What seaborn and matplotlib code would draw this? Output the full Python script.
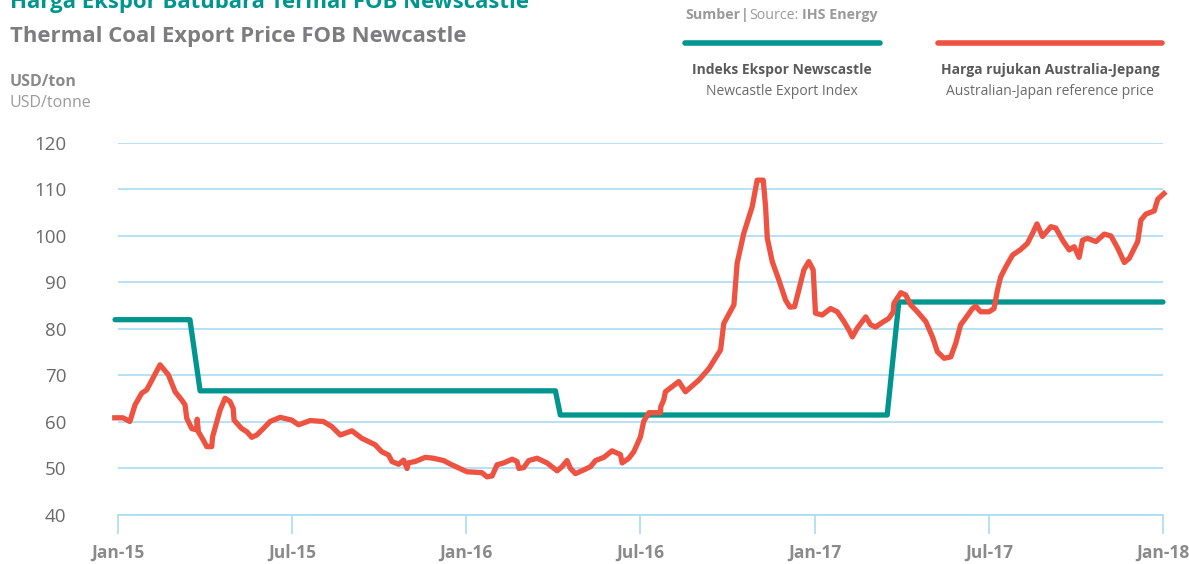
import pandas as pd
import matplotlib.pyplot as plt
import seaborn as sns

# months counted from Jan-15
tick_months = [0, 6, 12, 18, 24, 30, 36]
tick_labels = ["Jan-15", "Jul-15", "Jan-16", "Jul-16", "Jan-17", "Jul-17", "Jan-18"]

# Newcastle Export Index (step series)
index_month = [-0.1, 2.48, 2.83, 15.07, 15.24, 26.5, 26.9, 36.0]
index_price = [82.0, 82.0, 66.7, 66.7, 61.5, 61.5, 85.8, 85.8]

# Australian-Japan reference price
ref_month = [-0.2, 0.17, 0.41, 0.59, 0.82, 0.99, 1.45, 1.74, 1.97, 2.2, 2.31, 2.37, 2.54, 2.71, 2.73,
             2.77, 2.94, 3.06, 3.23, 3.26, 3.34, 3.52, 3.69, 3.86, 3.97, 4.0, 4.26, 4.44, 4.61, 4.78,
             5.01, 5.24, 5.59, 5.99, 6.22, 6.62, 7.08, 7.37, 7.66, 8.06, 8.4, 8.86, 9.09, 9.32, 9.44,
             9.67, 9.84, 9.96, 10.0, 10.24, 10.59, 10.87, 11.22, 11.5, 12.02, 12.54, 12.71, 12.89, 13.06,
             13.29, 13.58, 13.75, 13.81, 13.98, 14.15, 14.44, 14.78, 15.13, 15.3, 15.47, 15.59, 15.76,
             16.05, 16.28, 16.45, 16.74, 17.02, 17.31, 17.37, 17.6, 17.77, 18.0, 18.11, 18.29, 18.69,
             18.7, 18.8, 18.86, 19.32, 19.55, 20.01, 20.36, 20.76, 20.87, 21.22, 21.33, 21.56, 21.85,
             22.02, 22.23, 22.31, 22.37, 22.54, 22.77, 23.0, 23.15, 23.31, 23.63, 23.8, 23.95, 24.03,
             24.26, 24.55, 24.78, 25.01, 25.18, 25.3, 25.47, 25.76, 25.93, 26.1, 26.28, 26.56, 26.71,
             26.73, 26.97, 27.14, 27.31, 27.54, 27.83, 28.06, 28.23, 28.46, 28.69, 28.86, 29.03, 29.15,
             29.44, 29.55, 29.72, 30.01, 30.18, 30.3, 30.41, 30.59, 30.82, 31.1, 31.33, 31.51, 31.66,
             31.85, 32.14, 32.31, 32.54, 32.77, 32.94, 33.11, 33.23, 33.4, 33.69, 33.98, 34.21, 34.44,
             34.67, 34.84, 35.13, 35.24, 35.41, 35.7, 35.82, 36.1]
ref_price = [60.9, 60.9, 60.1, 63.7, 66.2, 66.9, 72.3, 70.1, 66.5, 64.7, 63.7, 60.8, 58.6, 58.3, 60.6,
             57.9, 56.1, 54.7, 54.7, 56.8, 58.6, 62.6, 65.1, 64.4, 62.9, 60.4, 58.6, 57.9, 56.7, 57.2,
             58.6, 60.1, 61.0, 60.4, 59.4, 60.3, 60.1, 59.0, 57.2, 58.1, 56.5, 55.1, 53.6, 52.9, 51.5,
             50.9, 51.8, 50.0, 51.2, 51.5, 52.4, 52.2, 51.7, 50.8, 49.3, 49.1, 48.2, 48.4, 50.8,
             51.2, 52.0, 51.5, 50.0, 50.2, 51.7, 52.2, 51.2, 49.5, 50.4, 51.7, 50.0, 48.9,
             49.7, 50.4, 51.7, 52.4, 53.8, 53.0, 51.2, 52.2, 53.6, 56.8, 60.1, 62.0, 62.0,
             63.3, 64.7, 66.5, 68.7, 66.5, 69.0, 71.5, 75.5, 81.2, 85.2, 94.1, 100.6, 106.3,
             112.0, 112.0, 106.3, 99.5, 94.5, 90.5, 86.2, 84.7, 84.8, 92.7, 94.5, 92.7, 83.4,
             83.0, 84.4, 83.7, 81.6, 79.8, 78.3, 80.2, 82.6, 80.9, 80.4, 81.2, 82.3, 83.7,
             85.5, 87.8, 87.3, 85.2, 83.7, 81.6, 78.3, 75.1, 73.7, 74.0, 76.9, 80.9, 81.9,
             84.4, 84.9, 83.7, 83.7, 84.4, 88.4, 91.2, 93.4, 95.9, 97.1, 98.4, 100.6, 102.6,
             99.9, 102.0, 101.7, 99.1, 97.0, 97.7, 95.4, 99.1, 99.5, 98.8, 100.4, 100.0, 97.4,
             94.3, 95.2, 98.8, 103.4, 104.7, 105.4, 107.9, 109.5]

TEAL = "#00958F"
RED = "#EE5342"
GRID = "#A9DDF3"

sns.set_style("white")
plt.rcParams['font.family'] = ['Open Sans', 'DejaVu Sans']

fig = plt.figure(figsize=(11.89, 5.64), dpi=100)
ax = fig.add_axes([0.0992, 0.0869, 0.8789, 0.6596])

idx = pd.DataFrame({"month": index_month, "price": index_price})
ref = pd.DataFrame({"month": ref_month, "price": ref_price})

sns.lineplot(data=idx, x="month", y="price", ax=ax, color=TEAL, lw=3.8,
             sort=False, solid_capstyle="round", zorder=3, clip_on=False)
sns.lineplot(data=ref, x="month", y="price", ax=ax, color=RED, lw=3.8,
             sort=False, solid_capstyle="butt", zorder=4, clip_on=False)

ax.set_xlim(0, 36)
ax.set_ylim(40, 120)
ax.set_yticks(range(40, 121, 10))
ax.set_xticks(tick_months)
ax.set_xticklabels(tick_labels, fontweight="bold", color="#8a8a8a", fontsize=12.5)
ax.tick_params(axis="y", length=0, pad=37, labelsize=13.5, labelcolor="#6a6a6a")
ax.tick_params(axis="x", bottom=True, length=14, width=1.2, color=GRID, direction="out", pad=7)
ax.yaxis.grid(True, color=GRID, lw=1.2)
ax.set_axisbelow(True)
for s in ["top", "right", "left"]:
    ax.spines[s].set_visible(False)
ax.spines["bottom"].set_color(GRID)
ax.spines["bottom"].set_linewidth(1.2)
ax.set_xlabel("")
ax.set_ylabel("")

# titles
fig.text(0.0084, 1.0 - 8 / 564, "Harga Ekspor Batubara Termal FOB Newscastle", color=TEAL,
         fontsize=15.95, fontweight="bold", va="baseline")
fig.text(0.0084, 1.0 - 42 / 564, "Thermal Coal Export Price FOB Newcastle", color="#7d7d80",
         fontsize=15.95, fontweight="bold", va="baseline")
fig.text(0.0084, 1.0 - 86 / 564, "USD/ton", color="#8a8a8a", fontsize=11.5,
         fontweight="bold", va="baseline")
fig.text(0.0084, 1.0 - 107 / 564, "USD/tonne", color="#9a9a9a", fontsize=11.5, va="baseline")

# source
fig.text(685 / 1189, 1.0 - 19 / 564, "Sumber", color="#9a9a9a", fontsize=10.3,
         fontweight="bold", va="baseline")
fig.text(741 / 1189, 1.0 - 19 / 564, "|", color="#9a9a9a", fontsize=10.3,
         fontweight="bold", va="baseline")
fig.text(749 / 1189, 1.0 - 19 / 564, "Source:", color="#9a9a9a", fontsize=10.3, va="baseline")
fig.text(802 / 1189, 1.0 - 19 / 564, "IHS Energy", color="#9a9a9a", fontsize=10.3,
         fontweight="bold", va="baseline")

# legend
fig.add_artist(plt.Line2D([685 / 1189, 880 / 1189], [1 - 43 / 564] * 2, color=TEAL, lw=4))
fig.add_artist(plt.Line2D([938 / 1189, 1162 / 1189], [1 - 43 / 564] * 2, color=RED, lw=4))
fig.text(782 / 1189, 1 - 74 / 564, "Indeks Ekspor Newscastle", ha="center", va="baseline",
         color="#5a5a5a", fontsize=10, fontweight="bold")
fig.text(782 / 1189, 1 - 95 / 564, "Newcastle Export Index", ha="center", va="baseline",
         color="#6a6a6a", fontsize=10)
fig.text(1050 / 1189, 1 - 74 / 564, "Harga rujukan Australia-Jepang", ha="center", va="baseline",
         color="#5a5a5a", fontsize=10, fontweight="bold")
fig.text(1050 / 1189, 1 - 95 / 564, "Australian-Japan reference price", ha="center",
         va="baseline", color="#6a6a6a", fontsize=10)

fig.savefig("out.png", dpi=100)
